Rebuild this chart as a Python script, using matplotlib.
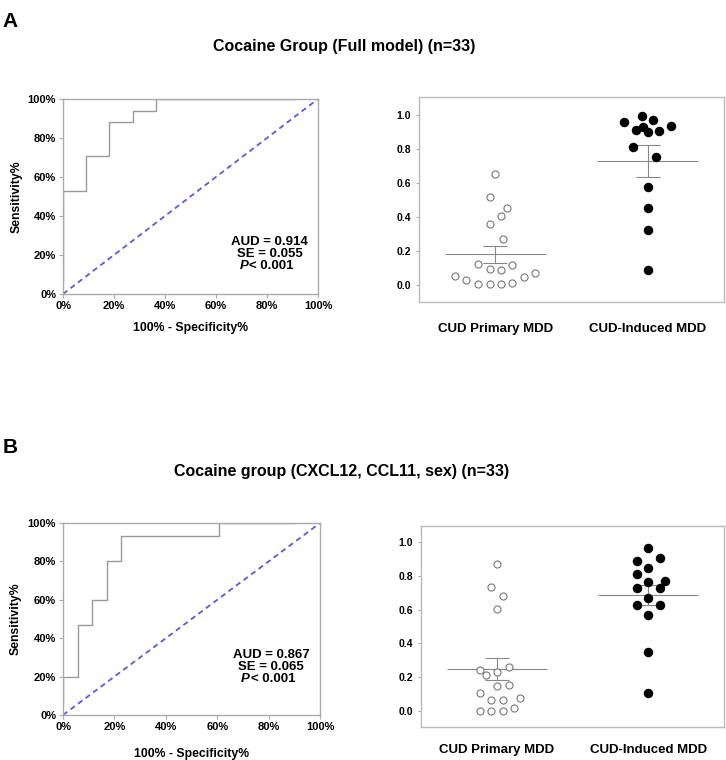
import numpy as np
import matplotlib.pyplot as plt

plt.rcParams['font.family'] = ['Liberation Sans', 'DejaVu Sans']
plt.rcParams['font.weight'] = 'bold'

# ---- ROC data ----
roc_a_fpr = [0, 0, 0.091, 0.182, 0.273, 0.364, 0.91]
roc_a_tpr = [0.06, 0.53, 0.71, 0.88, 0.94, 1.0, 1.0]
roc_b_fpr = [0, 0, 0.059, 0.114, 0.170, 0.225, 0.608, 0.90]
roc_b_tpr = [0.06, 0.20, 0.467, 0.60, 0.80, 0.933, 1.0, 1.0]
stats_a = ['AUD = 0.914', 'SE = 0.055', '< 0.001']
stats_b = ['AUD = 0.867', 'SE = 0.065', '< 0.001']

# ---- scatter data (value, horizontal jitter) ----
groups = ['CUD Primary MDD', 'CUD-Induced MDD']

a_primary = [0.653, 0.518, 0.451, 0.408, 0.357, 0.271, 0.125, 0.094, 0.086,
             0.120, 0.055, 0.031, 0.006, 0.004, 0.006, 0.012, 0.049, 0.069]
a_primary_dx = [0, -0.037, 0.076, 0.037, -0.037, 0.048, -0.113, -0.037, 0.037,
                0.111, -0.262, -0.190, -0.113, -0.037, 0.037, 0.111, 0.187, 0.262]
a_induced = [0.961, 0.994, 0.971, 0.937, 0.910, 0.931, 0.902, 0.904, 0.812,
             0.755, 0.578, 0.455, 0.322, 0.090]
a_induced_dx = [-0.153, -0.039, 0.035, 0.150, -0.078, -0.028, 0, 0.074, -0.094,
                0.054, 0, 0, 0, 0]
a_mean = [0.180, 0.729]
a_sem = [0.050, 0.094]

b_primary = [0.871, 0.733, 0.680, 0.602, 0.243, 0.214, 0.229, 0.260, 0.149,
             0.155, 0.109, 0.066, 0.066, 0.076, 0.002, 0.000, 0.000, 0.015]
b_primary_dx = [0, -0.035, 0.039, 0, -0.111, -0.072, 0, 0.078, 0, 0.078,
                -0.109, -0.035, 0.039, 0.153, -0.109, -0.035, 0.039, 0.115]
b_induced = [0.965, 0.890, 0.906, 0.847, 0.812, 0.766, 0.770, 0.729, 0.729,
             0.666, 0.627, 0.627, 0.568, 0.349, 0.106]
b_induced_dx = [0, -0.074, 0.076, 0, -0.074, 0, 0.113, -0.074, 0.076,
                0, -0.074, 0.076, 0, 0, 0]
b_mean = [0.247, 0.688]
b_sem = [0.065, 0.060]

pct_ticks = [0, 0.2, 0.4, 0.6, 0.8, 1.0]
pct_labels = ['0%', '20%', '40%', '60%', '80%', '100%']
sc_ticks = [0.0, 0.2, 0.4, 0.6, 0.8, 1.0]

fig = plt.figure(figsize=(7.26, 7.60), dpi=100)

spine_col = '#aaaaaa'


def roc_panel(rect, fpr, tpr, stats, xlab_y, stat_y):
    ax = fig.add_axes(rect)
    ax.plot([0, 1], [0, 1], color='#5a5ae0', lw=1.3, ls=(0, (3, 2.2)))
    ax.step(fpr, tpr, where='post', color='#999999', lw=1.0)
    ax.set_xlim(0, 1)
    ax.set_ylim(0, 1)
    ax.set_xticks(pct_ticks)
    ax.set_xticklabels(pct_labels)
    ax.set_yticks(pct_ticks)
    ax.set_yticklabels(pct_labels)
    ax.tick_params(labelsize=8, length=3, width=0.8, color=spine_col, pad=2)
    for s in ax.spines.values():
        s.set_color(spine_col)
        s.set_linewidth(1.0)
    ax.set_ylabel('Sensitivity%', fontsize=8.8, fontweight='bold')
    ax.yaxis.set_label_coords(-0.16, 0.5)
    ax.set_xlabel('100% - Specificity%', fontsize=8.8, fontweight='bold')
    ax.xaxis.set_label_coords(0.5, xlab_y)
    ax.text(0.81, stat_y, stats[0], transform=ax.transAxes, ha='center',
            va='center', fontsize=9.5, fontweight='bold')
    ax.text(0.81, stat_y - 0.063, stats[1], transform=ax.transAxes, ha='center',
            va='center', fontsize=9.5, fontweight='bold')
    ax.text(0.727, stat_y - 0.126, 'P', transform=ax.transAxes, ha='right',
            va='center', fontsize=9.5, fontweight='bold', style='italic')
    ax.text(0.73, stat_y - 0.126, stats[2], transform=ax.transAxes, ha='left',
            va='center', fontsize=9.5, fontweight='bold')
    return ax


def dot_panel(rect, prim, prim_dx, ind, ind_dx, mean, sem, ylim, lab_pad):
    ax = fig.add_axes(rect)
    for i in range(2):
        x = i + 1
        ax.hlines(mean[i], x - 0.33, x + 0.33, color='#888888', lw=0.8, zorder=1)
        ax.errorbar(x, mean[i], yerr=sem[i], fmt='none', ecolor='#888888',
                    elinewidth=0.8, capsize=8.7, capthick=0.8, zorder=1)
    ax.scatter(1 + np.array(prim_dx), prim, s=26, facecolor='white',
               edgecolor='#777777', linewidth=0.8, zorder=3)
    ax.scatter(2 + np.array(ind_dx), ind, s=34, color='black', zorder=3)
    ax.set_xlim(0.5, 2.5)
    ax.set_ylim(*ylim)
    ax.set_xticks([1, 2])
    ax.set_xticklabels(groups, fontsize=9.5, fontweight='bold')
    ax.tick_params(axis='x', length=0, pad=lab_pad)
    ax.set_yticks(sc_ticks)
    ax.set_yticklabels(['%.1f' % v for v in sc_ticks])
    ax.tick_params(axis='y', labelsize=7.5, length=2.5, width=0.8,
                   color=spine_col, pad=3)
    for s in ax.spines.values():
        s.set_color('#bbbbbb')
        s.set_linewidth(1.0)
    return ax


roc_panel([0.0868, 0.6132, 0.3512, 0.2566], roc_a_fpr, roc_a_tpr, stats_a,
          -0.145, 0.267)
dot_panel([0.5771, 0.6026, 0.4201, 0.2697], a_primary, a_primary_dx,
          a_induced, a_induced_dx, a_mean, a_sem, (-0.1, 1.105), 15)

roc_panel([0.0868, 0.0592, 0.3540, 0.2526], roc_b_fpr, roc_b_tpr, stats_b,
          -0.172, 0.3125)
dot_panel([0.5799, 0.0434, 0.4174, 0.2645], b_primary, b_primary_dx,
          b_induced, b_induced_dx, b_mean, b_sem, (-0.095, 1.095), 12)

fig.text(0.003, 0.984, 'A', fontsize=15, fontweight='bold', va='top')
fig.text(0.003, 0.424, 'B', fontsize=15, fontweight='bold', va='top')
fig.text(0.474, 0.939, 'Cocaine Group (Full model) (n=33)', fontsize=11.5,
         fontweight='bold', ha='center', va='center')
fig.text(0.470, 0.379, 'Cocaine group (CXCL12, CCL11, sex) (n=33)', fontsize=11.5,
         fontweight='bold', ha='center', va='center')

fig.savefig('out.png', dpi=100)
